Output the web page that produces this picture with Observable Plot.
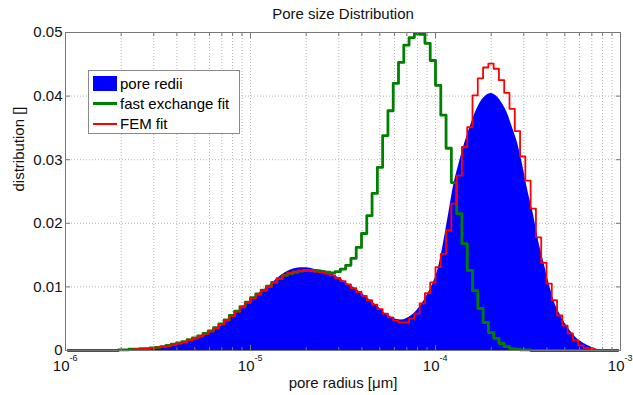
<!DOCTYPE html>
<html><head><meta charset="utf-8">
<script src="https://cdn.jsdelivr.net/npm/d3@7"></script>
<script src="https://cdn.jsdelivr.net/npm/@observablehq/plot@0.6"></script>
<style>
body{margin:0;background:#fff;font-family:"Liberation Sans",Arial,sans-serif;}
#wrap{position:relative;width:633px;height:395px;}
#legend{position:absolute;left:88px;top:70px;width:152px;height:64px;border:1px solid #8a8a8a;background:#fff;box-sizing:border-box;font-size:15px;color:#000;}
#legend .row{position:absolute;left:0;height:20px;width:100%;}
#legend .sw{position:absolute;left:4px;width:24px;}
#legend .lab{position:absolute;left:31px;top:0;line-height:20px;white-space:nowrap;}
</style></head><body><div id="wrap"><div id="legend"></div></div>
<script>
// ---- data ----
const binsPerDecade = 35;           // histogram bins per decade of pore radius
const radiusRange = [1e-6, 1e-3];
const seriesNames = ["pore redii", "fast exchange fit", "FEM fit"];
const seriesColors = ["#0000ff", "#008000", "#ff0000"];

const poreRedii = [
0,0,0,0,0,0,0,0,0,0,
0.0000,0.0001,0.0001,0.0002,0.0002,0.0003,0.0003,0.0004,0.0005,0.0006,
0.0008,0.0011,0.0013,0.0015,0.0018,0.0020,0.0024,0.0028,0.0033,0.0039,
0.0046,0.0053,0.0060,0.0068,0.0075,0.0082,0.0089,0.0095,0.0101,0.0109,
0.0116,0.0122,0.0126,0.0129,0.0130,0.0130,0.0129,0.0127,0.0126,0.0124,
0.0120,0.0115,0.0110,0.0104,0.0099,0.0093,0.0087,0.0080,0.0073,0.0066,
0.0058,0.0053,0.0049,0.0048,0.0050,0.0055,0.0063,0.0074,0.0088,0.0105,
0.0128,0.0168,0.0215,0.0262,0.0295,0.0325,0.0350,0.0373,0.0390,0.0400,
0.0404,0.0400,0.0390,0.0375,0.0352,0.0327,0.0291,0.0250,0.0215,0.0172,
0.0138,0.0105,0.0076,0.0058,0.0043,0.0031,0.0021,0.0014,0.0009,0.0005,
0.0002,0.0001,0,0,0];

const fastExchangeFit = [
0,0,0,0,0,0,0,0,0,0,
0.0001,0.0001,0.0002,0.0002,0.0003,0.0003,0.0004,0.0005,0.0006,0.0008,
0.0010,0.0012,0.0014,0.0017,0.0020,0.0023,0.0027,0.0031,0.0036,0.0042,
0.0048,0.0055,0.0062,0.0069,0.0076,0.0083,0.0089,0.0095,0.0101,0.0107,
0.0113,0.0118,0.0121,0.0123,0.0125,0.0126,0.0126,0.0125,0.0124,0.0123,
0.0122,0.0124,0.0128,0.0134,0.0145,0.0162,0.0184,0.0212,0.0247,0.0288,
0.0338,0.0377,0.0420,0.0453,0.0480,0.0492,0.0498,0.0497,0.0483,0.0456,
0.0417,0.0370,0.0318,0.0264,0.0215,0.0168,0.0126,0.0094,0.0066,0.0044,
0.0028,0.0019,0.0011,0.0006,0.0003,0.0002,0.0001,0.0001,0,0,
0,0,0,0,0,0,0,0,0,0,
0,0,0,0,0];

const femFit = [
0,0,0,0,0,0,0,0,0,0,
0.0001,0.0001,0.0001,0.0002,0.0002,0.0003,0.0004,0.0005,0.0006,0.0007,
0.0009,0.0011,0.0013,0.0016,0.0019,0.0022,0.0026,0.0030,0.0035,0.0041,
0.0047,0.0054,0.0061,0.0068,0.0075,0.0082,0.0088,0.0094,0.0100,0.0107,
0.0113,0.0118,0.0122,0.0124,0.0125,0.0125,0.0125,0.0124,0.0123,0.0121,
0.0118,0.0114,0.0109,0.0104,0.0098,0.0092,0.0086,0.0079,0.0072,0.0065,
0.0058,0.0052,0.0047,0.0044,0.0044,0.0050,0.0058,0.0074,0.0090,0.0107,
0.0131,0.0152,0.0189,0.0231,0.0275,0.0320,0.0351,0.0401,0.0428,0.0445,
0.0451,0.0443,0.0425,0.0405,0.0380,0.0345,0.0305,0.0267,0.0223,0.0178,
0.0138,0.0105,0.0079,0.0055,0.0039,0.0027,0.0016,0.0008,0.0004,0.0003,
0.0001,0,0,0,0];

const yTicks = [0, 0.01, 0.02, 0.03, 0.04, 0.05];
const yTickLabels = ["0", "0.01", "0.02", "0.03", "0.04", "0.05"];
const xTicks = [1e-6, 1e-5, 1e-4, 1e-3];
const xTickExponents = ["-6", "-5", "-4", "-3"];
const minorMultipliers = [2, 3, 4, 5, 6, 7, 8, 9];
const titleText = "Pore size Distribution";
const xLabel = "pore radius [\u03bcm]";
const yLabel = "distribution []";

// ---- build tables ----
const lo = Math.log10(radiusRange[0]);
const radius = poreRedii.map((_, i) => Math.pow(10, lo + (i + 0.5) / binsPerDecade));
const rows = radius.map((r, i) => ({r, blue: poreRedii[i], green: fastExchangeFit[i], red: femFit[i]}));
const minorGrid = xTicks.slice(0, -1).flatMap(t => minorMultipliers.map(m => t * m));
const allXGrid = [...minorGrid, ...xTicks.slice(1, -1)];
const xLab = xTicks.map((v, i) => ({v, e: xTickExponents[i]}));

const gridStyle = {stroke: "#b5b5b5", strokeWidth: 1, strokeDasharray: "1,2"};
const font = "Liberation Sans, Arial, sans-serif";
const axisGray = "#777";

const chart = Plot.plot({
  width: 633, height: 395,
  marginLeft: 65, marginRight: 13, marginTop: 32, marginBottom: 45,
  x: {type: "log", domain: radiusRange, axis: null},
  y: {domain: [0, 0.05], axis: null},
  style: {fontFamily: font, fontSize: "15px", background: "#fff", color: "#000", overflow: "visible"},
  marks: [
    Plot.ruleX(allXGrid, {x: d => d, ...gridStyle}),
    Plot.ruleY(yTicks.slice(1, -1), {y: d => d, ...gridStyle}),
    Plot.areaY(rows, {x: "r", y: "blue", fill: seriesColors[0], curve: "monotone-x"}),
    Plot.line(rows, {x: "r", y: "green", stroke: seriesColors[1], strokeWidth: 2.8, curve: "step"}),
    Plot.line(rows, {x: "r", y: "red", stroke: seriesColors[2], strokeWidth: 1.8, curve: "step"}),
    Plot.frame({stroke: axisGray, strokeWidth: 1}),
    Plot.axisY({ticks: yTicks, anchor: "left", tickSize: -5, tickFormat: () => "", label: null, stroke: axisGray}),
    Plot.axisY({ticks: yTicks, anchor: "right", tickSize: -5, tickFormat: () => "", label: null, stroke: axisGray}),
    Plot.axisX({ticks: xTicks, anchor: "bottom", tickSize: -5, tickFormat: () => "", label: null, stroke: axisGray}),
    Plot.axisX({ticks: xTicks, anchor: "top", tickSize: -5, tickFormat: () => "", label: null, stroke: axisGray}),
    Plot.axisX({ticks: minorGrid, anchor: "bottom", tickSize: -3, tickFormat: () => "", label: null, stroke: axisGray}),
    Plot.axisX({ticks: minorGrid, anchor: "top", tickSize: -3, tickFormat: () => "", label: null, stroke: axisGray}),
    Plot.text(yTicks, {y: d => d, text: (d, i) => yTickLabels[i], frameAnchor: "left", textAnchor: "end", dx: -3, fontSize: 15, fill: "#111"}),
    Plot.text(xLab, {x: "v", text: () => "10", frameAnchor: "bottom", textAnchor: "end", dx: 4, dy: 16, lineAnchor: "middle", fontSize: 15, fill: "#111"}),
    Plot.text(xLab, {x: "v", text: "e", frameAnchor: "bottom", textAnchor: "start", dx: 4, dy: 8, lineAnchor: "middle", fontSize: 9, fill: "#111"}),
    Plot.text([titleText], {text: d => d, frameAnchor: "top", dy: -18, lineAnchor: "middle", fontSize: 15, fill: "#111"}),
    Plot.text([xLabel], {text: d => d, frameAnchor: "bottom", dy: 33, lineAnchor: "middle", fontSize: 15, fill: "#111"}),
    Plot.text([yLabel], {text: d => d, frameAnchor: "left", dx: -46, rotate: -90, lineAnchor: "middle", fontSize: 15, fill: "#111"})
  ]
});
const wrap = document.getElementById("wrap");
wrap.insertBefore(chart, wrap.firstChild);

// legend
const legend = document.getElementById("legend");
seriesNames.forEach((name, i) => {
  const row = document.createElement("div");
  row.className = "row";
  row.style.top = (3 + i * 20) + "px";
  const sw = document.createElement("div");
  sw.className = "sw";
  if (i === 0) { sw.style.top = "2px"; sw.style.height = "15px"; sw.style.background = seriesColors[i]; }
  else { sw.style.top = (i === 1 ? 8 : 9) + "px"; sw.style.height = (i === 1 ? 3 : 2) + "px"; sw.style.background = seriesColors[i]; }
  const lab = document.createElement("div");
  lab.className = "lab";
  lab.textContent = name;
  row.appendChild(sw); row.appendChild(lab);
  legend.appendChild(row);
});
</script></body></html>
